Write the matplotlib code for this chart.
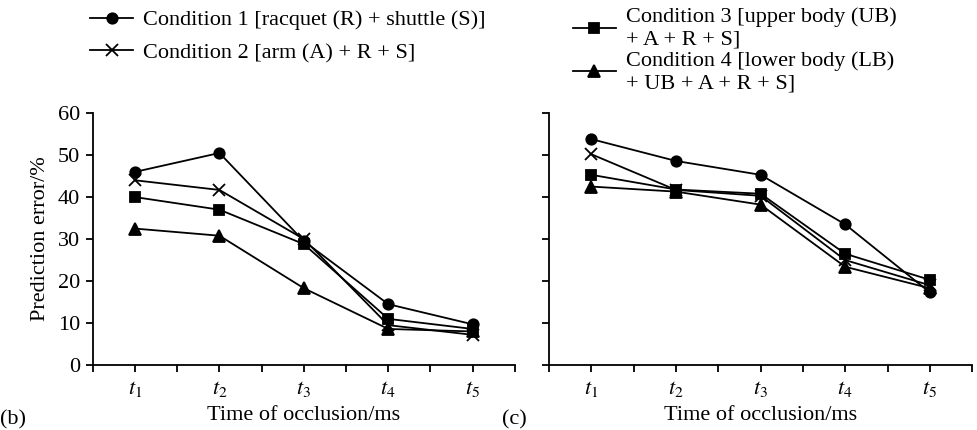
import matplotlib
matplotlib.use("Agg")
import matplotlib.pyplot as plt
from matplotlib.lines import Line2D

# data
x_labels = [r"$t_1$", r"$t_2$", r"$t_3$", r"$t_4$", r"$t_5$"]
x = [1, 2, 3, 4, 5]

# panel (b)
b_cond1 = [46.0, 50.5, 29.5, 14.5, 9.7]
b_cond2 = [44.0, 41.7, 30.0, 9.5, 7.2]
b_cond3 = [40.0, 37.0, 28.8, 11.0, 8.6]
b_cond4 = [32.5, 30.8, 18.3, 8.6, 8.0]

# panel (c)
c_cond1 = [53.8, 48.6, 45.3, 33.5, 17.3]
c_cond2 = [50.2, 41.7, 40.3, 25.0, 19.0]
c_cond3 = [45.3, 41.8, 40.8, 26.5, 20.3]
c_cond4 = [42.5, 41.3, 38.2, 23.4, 18.3]

labels = ["Condition 1 [racquet (R) + shuttle (S)]",
          "Condition 2 [arm (A) + R + S]",
          "Condition 3 [upper body (UB)\n+ A + R + S]",
          "Condition 4 [lower body (LB)\n+ UB + A + R + S]"]
markers = ["o", "x", "s", "^"]

plt.rcParams['font.family'] = ['Liberation Serif', 'DejaVu Serif']
plt.rcParams['mathtext.fontset'] = 'stix'
plt.rcParams['xtick.direction'] = 'out'
plt.rcParams['ytick.direction'] = 'out'

fs = 16
lw = 1.3
msize = {"o": 7.5, "x": 9, "s": 7.5, "^": 8.5}

fig = plt.figure(figsize=(9.77, 4.30), dpi=100)
ax1 = fig.add_axes([0.095, 0.151, 0.432, 0.586])
ax2 = fig.add_axes([0.562, 0.151, 0.433, 0.586])


def draw(ax, series, show_y):
    for ys, m in zip(series, markers):
        ax.plot(x, ys, color="black", lw=lw, marker=m, ms=msize[m],
                mew=1.3, mfc="black", mec="black")
    ax.set_xlim(0.5, 5.5)
    ax.set_ylim(0, 60)
    ax.spines['top'].set_visible(False)
    ax.spines['right'].set_visible(False)
    ax.spines['left'].set_linewidth(lw)
    ax.spines['bottom'].set_linewidth(lw)
    ax.set_xticks(x)
    ax.set_xticklabels(x_labels, fontsize=fs)
    ax.set_xticks([0.5, 1.5, 2.5, 3.5, 4.5, 5.5], minor=True)
    ax.tick_params(axis='both', which='both', length=5, width=lw)
    ax.tick_params(axis='x', pad=5)
    ax.tick_params(axis='y', pad=4)
    ax.set_yticks(range(0, 61, 10))
    if show_y:
        ax.tick_params(axis='y', labelsize=fs)
        ax.set_ylabel("Prediction error/%", fontsize=fs, labelpad=6)
    else:
        ax.set_yticklabels([])
    ax.set_xlabel("Time of occlusion/ms", fontsize=fs, labelpad=5)


draw(ax1, [b_cond1, b_cond2, b_cond3, b_cond4], True)
draw(ax2, [c_cond1, c_cond2, c_cond3, c_cond4], False)

handles = [Line2D([], [], color="black", lw=lw, marker=m, ms=msize[m],
                  mew=1.3, mfc="black", mec="black") for m in markers]

fig.legend(handles[:2], labels[:2], loc="upper left",
           bbox_to_anchor=(0.092, 0.977), frameon=False, fontsize=fs,
           handlelength=1.95, handletextpad=0.45, labelspacing=0.55,
           borderpad=0, borderaxespad=0)
fig.legend(handles[2:], labels[2:], loc="upper left",
           bbox_to_anchor=(0.586, 0.982), frameon=False, fontsize=fs,
           handlelength=1.95, handletextpad=0.45, labelspacing=0.1,
           borderpad=0, borderaxespad=0)

fig.text(0.0, 0.002, "(b)", fontsize=fs, ha="left", va="bottom")
fig.text(0.514, 0.002, "(c)", fontsize=fs, ha="left", va="bottom")

fig.savefig("out.png", dpi=100)
